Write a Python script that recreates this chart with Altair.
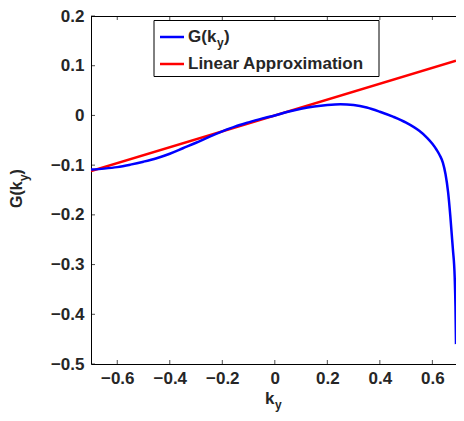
import altair as alt
import pandas as pd

# ---- data ----
x_blue = [-0.70, -0.65, -0.60, -0.55, -0.50, -0.45, -0.40, -0.35, -0.30, -0.25,
          -0.20, -0.15, -0.10, -0.05, 0.00, 0.05, 0.10, 0.15, 0.20, 0.25,
          0.30, 0.35, 0.40, 0.45, 0.50, 0.55, 0.58, 0.60, 0.616, 0.628,
          0.64, 0.65, 0.66, 0.668, 0.678, 0.685, 0.688, 0.69]
g_blue = [-0.109, -0.107, -0.104, -0.099, -0.093, -0.086, -0.077, -0.066, -0.055, -0.043,
          -0.032, -0.022, -0.014, -0.0065, 0.000, 0.0075, 0.0135, 0.018, 0.021, 0.0225,
          0.021, 0.016, 0.0075, -0.0025, -0.0145, -0.031, -0.045, -0.057, -0.069, -0.080,
          -0.095, -0.118, -0.155, -0.20, -0.268, -0.325, -0.385, -0.46]
x_lin = [-0.70, 0.69]
g_lin = [-0.112, 0.110]
x_ticks = [-0.6, -0.4, -0.2, 0.0, 0.2, 0.4, 0.6]
y_ticks = [-0.5, -0.4, -0.3, -0.2, -0.1, 0.0, 0.1, 0.2]
legend_labels = ["G(k", "y", ")", "Linear Approximation"]
x_title = ["k", "y"]
y_title = ["G(k", "y", ")"]

FONT = "Liberation Sans"
TXT = "#262626"
W, H = 365, 348

xs = alt.Scale(domain=[-0.7, 0.69], nice=False, zero=False)
ys = alt.Scale(domain=[-0.5, 0.2], nice=False, zero=False)

axis_common = dict(
    grid=False, ticks=False, domain=True, domainColor="black", domainWidth=1,
    labelFont=FONT, labelFontSize=17, labelFontWeight="bold", labelColor=TXT,
    labelFlush=False, labelOverlap=False, title=None, format=".1~f",
)
x_axis = alt.Axis(values=x_ticks, orient="bottom", labelPadding=6, **axis_common)
y_axis = alt.Axis(values=y_ticks, orient="left", labelPadding=7, **axis_common)

blue_df = pd.DataFrame({"x": x_blue, "g": g_blue})
lin_df = pd.DataFrame({"x": x_lin, "g": g_lin})

lin = alt.Chart(lin_df).mark_line(color="#ff0000", strokeWidth=2.5, clip=True).encode(
    x=alt.X("x:Q", scale=xs, axis=x_axis),
    y=alt.Y("g:Q", scale=ys, axis=y_axis),
)
blue = alt.Chart(blue_df).mark_line(color="#0000ff", strokeWidth=2.5, clip=True,
                                    interpolate="monotone").encode(
    x=alt.X("x:Q", scale=xs, axis=x_axis),
    y=alt.Y("g:Q", scale=ys, axis=y_axis),
)

one = alt.Data(values=[{"a": 1}])

top_line = alt.Chart(one).mark_rule(color="black", strokeWidth=1).encode(
    x=alt.value(0), x2=alt.value(W), y=alt.value(0.5))

xt_df = pd.DataFrame({"x": x_ticks})
yt_df = pd.DataFrame({"g": y_ticks})
tick_bottom = alt.Chart(xt_df).mark_tick(orient="vertical", size=4, thickness=1, color="black", yOffset=-2).encode(
    x=alt.X("x:Q", scale=xs, axis=x_axis), y=alt.YDatum(-0.5, scale=ys, axis=y_axis))
tick_top = alt.Chart(xt_df).mark_tick(orient="vertical", size=4, thickness=1, color="black", yOffset=2).encode(
    x=alt.X("x:Q", scale=xs, axis=x_axis), y=alt.YDatum(0.2, scale=ys, axis=y_axis))
tick_left = alt.Chart(yt_df).mark_tick(orient="horizontal", size=4, thickness=1, color="black", xOffset=2).encode(
    y=alt.Y("g:Q", scale=ys, axis=y_axis), x=alt.XDatum(-0.7, scale=xs, axis=x_axis))


def txt(s, x, y, size=17, angle=0):
    return alt.Chart(one).mark_text(
        align="left", baseline="alphabetic", font=FONT, fontWeight="bold",
        fontSize=size, color=TXT, angle=angle,
    ).encode(x=alt.value(x), y=alt.value(y), text=alt.value(s))


# legend
leg_box = alt.Chart(one).mark_rect(fill="white", stroke="black", strokeWidth=1).encode(
    x=alt.value(63), x2=alt.value(288), y=alt.value(4.5), y2=alt.value(60.5))
leg_blue = alt.Chart(one).mark_rule(color="#0000ff", strokeWidth=2.5).encode(
    x=alt.value(69), x2=alt.value(93), y=alt.value(21))
leg_red = alt.Chart(one).mark_rule(color="#ff0000", strokeWidth=2.5).encode(
    x=alt.value(69), x2=alt.value(93), y=alt.value(48))
leg_t1 = txt(legend_labels[0], 97, 25.5)
leg_t2 = txt(legend_labels[1], 126, 31, size=12)
leg_t3 = txt(legend_labels[2], 133, 25.5)
leg_t4 = txt(legend_labels[3], 97, 53)

# axis titles
xt1 = txt(x_title[0], 174, 388)
xt2 = txt(x_title[1], 184, 393, size=12)
yt1 = txt(y_title[0], -69, 192, size=16, angle=270)
yt2 = txt(y_title[1], -63, 165, size=12, angle=270)
yt3 = txt(y_title[2], -69, 158.5, size=16, angle=270)

chart = alt.layer(
    lin, blue, top_line, tick_bottom, tick_top, tick_left,
    leg_box, leg_blue, leg_red, leg_t1, leg_t2, leg_t3, leg_t4,
    xt1, xt2, yt1, yt2, yt3,
).properties(
    width=W, height=H,
    padding={"left": 83, "top": 8, "right": 0, "bottom": 49},
    autosize=alt.AutoSizeParams(type="none"),
    background="white",
).configure_view(stroke=None)

chart.save("out.html", embed_options={"renderer": "svg", "actions": False})
